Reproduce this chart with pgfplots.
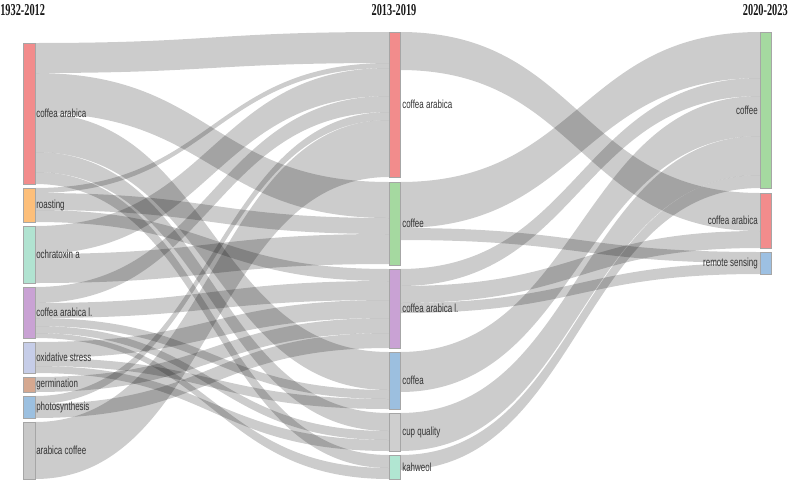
\documentclass[border=0pt]{standalone}
\usepackage{fontspec}
\usepackage{pgfplots}
\pgfplotsset{compat=1.18}
\newfontfamily\labfont[FakeStretch=0.68]{Liberation Sans}
\newfontfamily\titfont[FakeStretch=0.62]{Liberation Serif}

\definecolor{caRed}{HTML}{F28C8C}
\definecolor{roast}{HTML}{FDBF7A}
\definecolor{ochra}{HTML}{B1E3D1}
\definecolor{cal}{HTML}{C9A2D4}
\definecolor{oxid}{HTML}{C6CDE8}
\definecolor{germ}{HTML}{D5A890}
\definecolor{photo}{HTML}{9CC0E0}
\definecolor{acof}{HTML}{C8C8C8}
\definecolor{coffeeGr}{HTML}{A5D9A0}
\definecolor{coffea}{HTML}{9CBFDF}
\definecolor{cupq}{HTML}{CFCFCF}
\definecolor{kahweol}{HTML}{B1E6D2}
\definecolor{remote}{HTML}{9DC0E2}

% band between two columns: x0, xmid, x1, source top/bottom, target top/bottom
\newcommand{\band}[7]{%
  \fill[black, fill opacity=0.2] (axis cs:#1,#4) .. controls (axis cs:#2,#4) and (axis cs:#2,#6) .. (axis cs:#3,#6)
    -- (axis cs:#3,#7) .. controls (axis cs:#2,#7) and (axis cs:#2,#5) .. (axis cs:#1,#5) -- cycle;}
\newcommand{\lm}[4]{\band{35}{212}{389}{#1}{#2}{#3}{#4}}
\newcommand{\mr}[4]{\band{400}{580}{760}{#1}{#2}{#3}{#4}}
% node bar: x0, x1, top, bottom, colour
\newcommand{\nd}[5]{\addplot[draw=black!35, fill=#5, line width=0.5pt] coordinates {(#1,#3) (#2,#3) (#2,#4) (#1,#4)} -- cycle;}

\tikzset{
  lab/.style={inner sep=0pt, text=black!80, font=\labfont\fontsize{8.8}{10}\selectfont},
  tit/.style={inner sep=0pt, text=black!90, font=\titfont\bfseries\fontsize{12.5}{14}\selectfont},
}

\begin{document}
\begin{tikzpicture}
\begin{axis}[
    hide axis, scale only axis,
    width=591.75pt, height=361.5pt,
    xmin=0, xmax=789, ymin=0, ymax=482,
    y dir=reverse, clip=false, no markers,
]
% 1932-2012 -> 2013-2019
\lm{43}{73}{32}{63}
\lm{73}{113}{182}{218}
\lm{113}{152}{352}{390}
\lm{152}{172}{413}{431}
\lm{172}{184}{455}{468}
\lm{188}{193}{63}{68}
\lm{193}{210}{218}{234}
\lm{210}{222}{269}{281}
\lm{226}{254}{68}{96}
\lm{254}{283}{234}{264}
\lm{287}{303}{96}{112}
\lm{303}{318}{281}{300}
\lm{318}{326}{390}{399}
\lm{326}{333}{431}{440}
\lm{333}{338}{468}{479}
\lm{342}{358}{300}{318}
\lm{358}{366}{399}{409}
\lm{366}{373}{440}{451}
\lm{377}{392}{318}{333}
\lm{396}{404}{112}{120}
\lm{404}{418}{333}{348}
\lm{422}{479}{120}{177}
% 2013-2019 -> 2020-2023
\mr{32}{70}{193}{231}
\mr{182}{228}{32}{78}
\mr{228}{240}{252}{263}
\mr{269}{286}{78}{96}
\mr{286}{303}{231}{248}
\mr{303}{313}{263}{274}
\mr{352}{392}{96}{136}
\mr{413}{451}{136}{175}
\mr{455}{470}{175}{188}

% nodes
\nd{23}{35}{43}{184}{caRed}
\nd{23}{35}{188}{222}{roast}
\nd{23}{35}{226}{283}{ochra}
\nd{23}{35}{287}{338}{cal}
\nd{23}{35}{342}{373}{oxid}
\nd{23}{35}{377}{392}{germ}
\nd{23}{35}{396}{418}{photo}
\nd{23}{35}{422}{479}{acof}
\nd{389}{400}{32}{177}{caRed}
\nd{389}{400}{182}{265}{coffeeGr}
\nd{389}{400}{269}{348}{cal}
\nd{389}{400}{352}{409}{coffea}
\nd{389}{400}{413}{451}{cupq}
\nd{389}{400}{455}{479}{kahweol}
\nd{760}{771}{32}{188}{coffeeGr}
\nd{760}{771}{193}{248}{caRed}
\nd{760}{771}{252}{274}{remote}

% labels
\node[lab, anchor=west] at (axis cs:36,113.5) {coffea arabica};
\node[lab, anchor=west] at (axis cs:36,205) {roasting};
\node[lab, anchor=west] at (axis cs:36,254.5) {ochratoxin a};
\node[lab, anchor=west] at (axis cs:36,312.5) {coffea arabica l.};
\node[lab, anchor=west] at (axis cs:36,357.5) {oxidative stress};
\node[lab, anchor=west] at (axis cs:36,384.5) {germination};
\node[lab, anchor=west] at (axis cs:36,407) {photosynthesis};
\node[lab, anchor=west] at (axis cs:36,450.5) {arabica coffee};
\node[lab, anchor=west] at (axis cs:402,104.5) {coffea arabica};
\node[lab, anchor=west] at (axis cs:402,223.5) {coffee};
\node[lab, anchor=west] at (axis cs:402,308.5) {coffea arabica l.};
\node[lab, anchor=west] at (axis cs:402,380.5) {coffea};
\node[lab, anchor=west] at (axis cs:402,432) {cup quality};
\node[lab, anchor=west] at (axis cs:402,467) {kahweol};
\node[lab, anchor=east] at (axis cs:758,110) {coffee};
\node[lab, anchor=east] at (axis cs:758,220.5) {coffea arabica};
\node[lab, anchor=east] at (axis cs:758,263) {remote sensing};

% column titles
\node[tit, anchor=base west] at (axis cs:0,15) {1932-2012};
\node[tit, anchor=base] at (axis cs:394,15) {2013-2019};
\node[tit, anchor=base east] at (axis cs:788,15) {2020-2023};
\end{axis}
\pgfresetboundingbox
\path (current axis.south west) rectangle (current axis.north east);
\end{tikzpicture}
\end{document}
